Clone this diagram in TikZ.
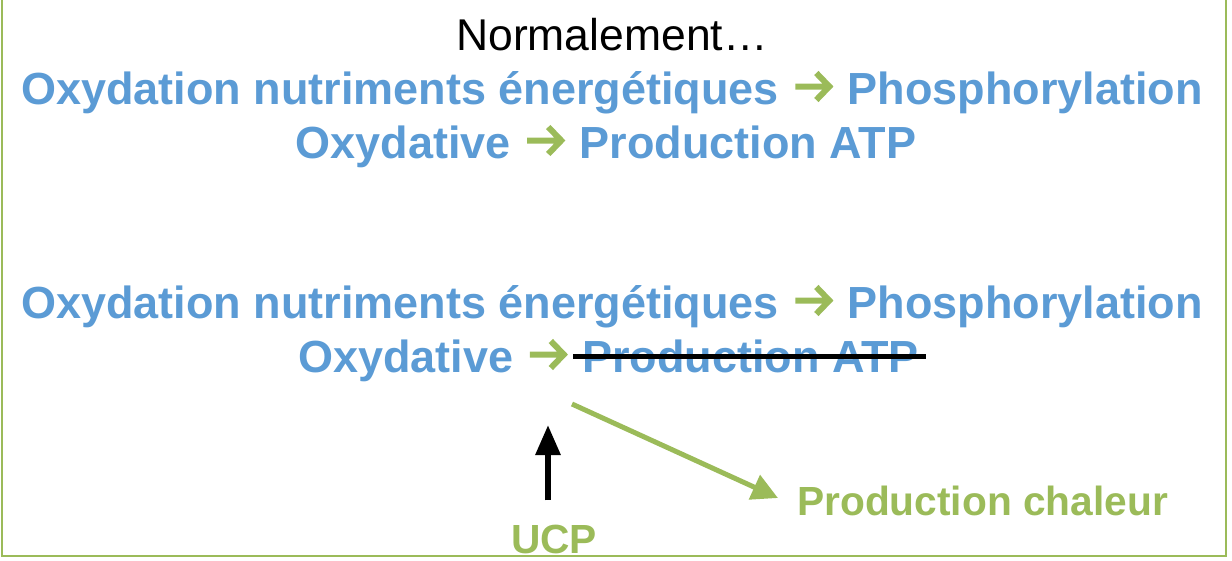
\documentclass[tikz,border=0pt]{standalone}
\usepackage{fontspec}
\setmainfont{Liberation Sans}
\usetikzlibrary{arrows.meta}
\definecolor{myblue}{HTML}{5B9BD5}
\definecolor{mygreen}{HTML}{9BBB59}
\newcommand\garr{\tikz[x=1pt,y=1pt,baseline=0pt]{\useasboundingbox (-4,0) rectangle (40,34);\draw[mygreen,line width=6pt,line cap=butt,line join=miter] (0,17.5) -- (33,17.5) (21,31) -- (34,17.5) -- (21,4);}}
\tikzset{
  bluetext/.style={text=myblue, font=\fontsize{45}{52}\selectfont\bfseries, inner sep=0pt, anchor=base},
  titletext/.style={text=black, font=\fontsize{44.5}{52}\selectfont, inner sep=0pt, anchor=base},
  greentext/.style={text=mygreen, font=\fontsize{40.7}{48}\selectfont\bfseries, inner sep=0pt, anchor=base},
}
\begin{document}
\begin{tikzpicture}[x=1pt,y=-1pt]
\useasboundingbox (0,0) rectangle (1232,560);
\draw[mygreen, line width=2.5pt] (2,-10) -- (2,556) -- (1226,556) -- (1226,-10);

\node[titletext] (norm) at (612,50) {Normalement…};
\node[bluetext] (l1) at (612,104) {Oxydation nutriments énergétiques \garr{} Phosphorylation};
\node[bluetext] (l2) at (606,158) {Oxydative \garr{} Production ATP};

\node[bluetext] (l3) at (612,318) {Oxydation nutriments énergétiques \garr{} Phosphorylation};
\node[bluetext, anchor=base east] (l4a) at (570,372) {Oxydative \garr};
\node[bluetext, anchor=base west] (l4b) at (582,372) {Production ATP};
\draw[black, line width=5pt] ([xshift=-9pt,yshift=16pt]l4b.base west) -- ([xshift=7pt,yshift=16pt]l4b.base east);

\node[greentext] (ucp) at (554,553) {UCP};
\node[greentext, anchor=base west] (chal) at (797,515) {Production chaleur};

\coordinate (btip) at (548,425);
\coordinate (gstart) at (572,404);
\coordinate (gtip) at (778,498);
\draw[black, line width=6pt, -{Triangle[length=30pt,width=24pt]}] (ucp.north) ++(-6,-24) -- (btip);
\draw[mygreen, line width=5pt, -{Triangle[length=26pt,width=26pt]}] (gstart) -- (gtip);
\end{tikzpicture}
\end{document}
